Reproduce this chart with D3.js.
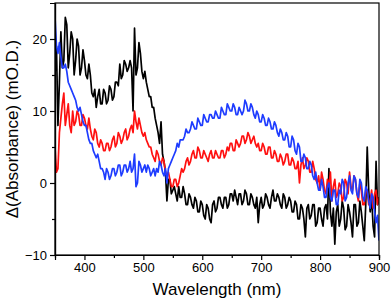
<!DOCTYPE html>
<html>
<head>
<meta charset="utf-8">
<script src="https://cdn.jsdelivr.net/npm/d3@7"></script>
<style>
  body { margin: 0; background: #fff; }
  text { font-family: "Liberation Sans", Arial, sans-serif; }
</style>
</head>
<body>
<svg id="chart"></svg>
<script>
/* data, 350..900 nm every 2.5 nm */
var startNm = 350, stepNm = 2.5;

var black = [
  15, 19, 8, 14, 21, 16, 17, 23, 22, 16, 18, 21, 20, 15, 17, 20, 19, 15, 16, 18.5,
  17, 15, 14.5, 16.5, 15, 12.5, 12, 13, 10.5, 12, 13, 11, 11, 13, 12.5, 11, 11.5, 13.5, 13, 11.5,
  12, 14, 14, 13.5, 16.5, 14.5, 15, 17, 16.5, 15.5, 16, 17, 16, 10, 21.5, 15, 16, 19.5, 18, 15.5,
  14.5, 15.5, 14, 13, 12, 12, 10.5, 10.5, 9, 8, 7, 5.5, 8.5, 4, 3, 1.5, -2.5, 0.5, 0.5, -1.5,
  -1, -0.5, -1.5, -2.5, -0.5, -2, -2, -0.5, -1.5, -3, -3, -1.5, -2, -3, -3.5, -2, -2.5, -4, -4, -2.5,
  -3, -4.5, -5, -3, -3.5, -5, -5.5, -3, -2.5, -4, -3.5, -2, -2, -3, -3.5, -2, -2, -3.5, -3, -1.5,
  -1.5, -2.5, -1, -2, -3, -1.5, -1.5, -3, -2.5, -1, -1.5, -3, -3, -1.5, -2, -3, -3.5, -2, -5.5, -3,
  -2, -3.5, -3, -1.5, -2, -3, -3.5, -2, -1, -2.5, -2.5, -1.5, -2, -3, -3.5, -1.5, -2, -3.5, -3, -2,
  -2.5, -4, -4, -2.5, -3, -5, -5, -3, -3.5, -5, -7.5, -3.5, -3, -5, -4.5, -3, -3, -6, -5.5, -3.5,
  -3.5, -5, -6, -3.5, -3, -5, 2, -4, -6, -3.5, -8.5, -4, -3, -6, -5, -2.5, -3.5, -6.5, -6, -3,
  -4, -5.5, -7.5, -3, -3, -6, -5.5, -2.5, -4, -6, -8, -3, 5, -1, -4, -2, -6, -7.5, 3, -3,
  -2];

var red = [
  5, 1.5, 2, 7, 9, 11, 12.5, 8, 9.5, 11, 8, 7, 10, 8, 8.5, 10, 9.5, 8, 8, 9.5,
  9, 8, 7.5, 9, 7.5, 6.5, 6, 7.5, 7, 5.5, 5, 6, 5.5, 4.5, 4.5, 5.5, 5.5, 4.5, 5, 6,
  6.5, 5, 5.5, 7, 6.5, 5.5, 6, 7, 7.5, 6, 6.5, 7.5, 8, 7, 10, 8.5, 7.5, 9, 8, 7,
  6.5, 7, 6, 5.5, 5, 5, 4, 3.5, 3, 4.5, 4, 3, 2.5, 3.5, 3, 1.5, 1, 1.5, 0.5, -0.5,
  -0.5, 0.5, 0.5, -0.5, 0, 1, 2, 1.5, 2, 3, 3.5, 2.5, 3, 4, 4.5, 3.5, 3.5, 5, 4.5, 3.5,
  3.5, 4.5, 4, 3.5, 3, 4, 4.5, 3.5, 3.5, 4.5, 4, 3.5, 3.5, 4.5, 4.5, 3.5, 4, 5, 4.5, 5.5,
  5.5, 4.5, 4.5, 6, 5.5, 5, 5.5, 6.5, 6.5, 5.5, 6, 7, 6.5, 5.5, 6, 6.5, 5.5, 5, 5.5, 4.5,
  4.5, 5.5, 5, 4, 4, 5, 5, 3.5, 3.5, 4.5, 4, 3, 3, 4, 3.5, 2.5, 3, 4, 4, 2.5,
  2.5, 3.5, 3, 2, 2, 3, 0, 2.5, 3.5, 2, 2.5, 3.5, 3, 1.5, 1.5, 3, 2, 0.5, 0, 1,
  -1, 1.5, 0.5, -1, -1.5, 0.5, -0.5, 1.5, -2.5, -0.5, 0.5, -2, -1.5, 0, -0.5, -2.5, -2, 0.5, 0, -1.5,
  1.5, -0.5, -1, 1, 0.5, -1.5, -2.5, 0, -1, -3, -3, -1, -1, -3, -2.5, -1, -3.5, -1.5, -1, -3,
  -2];

var blue = [
  23, 19, 18, 19.5, 17.5, 16, 16, 16.5, 15.5, 14, 13.5, 13, 12.5, 12, 11.5, 10.5, 10, 10.5, 9.5, 8.5,
  8, 8, 7, 6, 5.5, 5.5, 4.5, 4, 3.5, 4, 3, 2, 2, 1.5, 0.5, 2, 1.5, 0.5, 1, 2,
  2, 1, 1.5, 2.5, 2.5, 1, 1.5, 2.5, 2.5, 1.5, 2, 3, 1.5, 2, 4, -0.5, 0, 3, 2.5, 1.5,
  2, 2.5, 1.5, 2.5, 2, 1, 1.5, 2, 1, 2, 1.5, 3, 2.5, 1.5, 1, 2, 0, 2, 2.5, 3,
  3.5, 4, 4.5, 5.5, 5, 6, 6, 6, 6.5, 7.5, 7, 7, 7.5, 8.5, 8, 7.5, 7.5, 9, 8.5, 8,
  8, 9.5, 9, 8.5, 8.5, 9.5, 9.5, 9, 9, 10, 9.5, 9, 9, 10.5, 10, 9.5, 9.5, 11, 10.5, 10,
  10, 11, 10.5, 9.5, 9.5, 10.5, 10, 9.5, 10, 11.5, 11, 10, 10, 11, 10.5, 9.5, 9, 10, 9.5, 8.5,
  8.5, 9.5, 9, 8, 8, 9, 8.5, 7.5, 7.5, 8.5, 8, 7, 6.5, 7.5, 7, 6, 6, 7, 6.5, 5,
  5, 6.5, 6, 4.5, 4, 5.5, 5, 3, 3, 4, 3.5, 2, 2, 3, 2.5, 1, 0.5, 1.5, 0, -1,
  -1, 0.5, -0.5, -2, -2, -0.5, 0, -2, -2.5, -1, -1, -3, -3, -1, -1.5, 0.5, 0, -2.5, -2, 0,
  1, -1, -1.5, 1, 0.5, -1.5, -2, 0.5, 0, -2, -2.5, -0.5, -1, -2.5, -3.5, -1.5, -2, -4, -5.5, -4.5,
  -8];

var seriesList = [
  { name: 'black', values: black, color: '#000000' },
  { name: 'red', values: red, color: '#ff1010' },
  { name: 'blue', values: blue, color: '#1e3cff' }
];

var xTicks = [400, 500, 600, 700, 800, 900];
var xMinor = [450, 550, 650, 750, 850];
var yTicks = [-10, 0, 10, 20];
var yMinor = [-5, 5, 15];

var width = 392, height = 302;
var margin = { top: 3, right: 13, bottom: 47, left: 55 };
var innerW = width - margin.left - margin.right;
var innerH = height - margin.top - margin.bottom;

var svg = d3.select('#chart')
  .attr('width', width)
  .attr('height', height);

var g = svg.append('g')
  .attr('transform', 'translate(' + margin.left + ',' + margin.top + ')');

var x = d3.scaleLinear().domain([350, 900]).range([0, innerW]);
var y = d3.scaleLinear().domain([-10, 25]).range([innerH, 0]);

// clip so spikes stay inside the frame
g.append('clipPath').attr('id', 'clip')
  .append('rect').attr('width', innerW).attr('height', innerH);

var line = d3.line()
  .x(function (d, i) { return x(startNm + i * stepNm); })
  .y(function (d) { return y(d); });

g.append('g').attr('clip-path', 'url(#clip)')
  .selectAll('path').data(seriesList)
  .enter().append('path')
    .attr('d', function (d) { return line(d.values); })
    .attr('fill', 'none')
    .attr('stroke', function (d) { return d.color; })
    .attr('stroke-width', 1.7)
    .attr('stroke-linejoin', 'round');

// frame
g.append('rect')
  .attr('width', innerW).attr('height', innerH)
  .attr('fill', 'none').attr('stroke', '#000').attr('stroke-width', 1.2);

// axes
g.append('g').attr('transform', 'translate(0,' + innerH + ')')
  .call(d3.axisBottom(x).tickValues(xTicks).tickSize(5).tickPadding(3).tickFormat(d3.format('d')));
g.append('g').attr('transform', 'translate(0,' + innerH + ')')
  .call(d3.axisBottom(x).tickValues(xMinor).tickSize(3).tickFormat(''));

g.append('g')
  .call(d3.axisLeft(y).tickValues(yTicks).tickSize(5).tickPadding(3).tickFormat(d3.format('d')));
g.append('g')
  .call(d3.axisLeft(y).tickValues(yMinor).tickSize(3).tickFormat(''));

g.selectAll('.domain').attr('stroke-width', 1.2);
g.selectAll('.tick line').attr('stroke-width', 1.2);
g.selectAll('.tick text').attr('font-size', 13).attr('fill', '#000')
  .style('font-family', '"Liberation Sans", Arial, sans-serif');

// titles
svg.append('text')
  .attr('x', margin.left + innerW / 2)
  .attr('y', 295)
  .attr('text-anchor', 'middle')
  .attr('font-size', 17)
  .text('Wavelength (nm)');

svg.append('text')
  .attr('transform', 'translate(18,' + (margin.top + innerH / 2) + ') rotate(-90)')
  .attr('text-anchor', 'middle')
  .attr('font-size', 17)
  .text('Δ(Absorbance) (mO.D.)');
</script>
</body>
</html>
